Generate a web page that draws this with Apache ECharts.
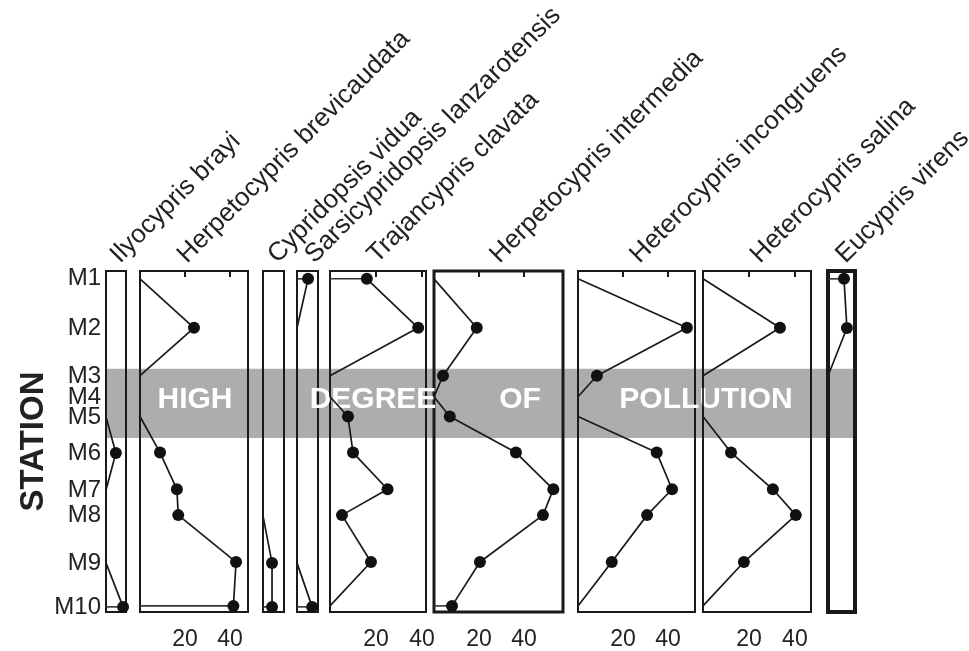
<!DOCTYPE html>
<html><head><meta charset="utf-8">
<script src="https://cdn.jsdelivr.net/npm/echarts@6/dist/echarts.min.js"></script>
<style>html,body{margin:0;padding:0;background:#fff}#c{width:969px;height:651px}</style>
</head><body><div id="c"></div>
<script>
// ---------- data ----------
const stations = ['M1','M2','M3','M4','M5','M6','M7','M8','M9','M10'];
// relative position of each station along the transect (axis units, 0..10)
const stationPos = [0.23, 1.67, 3.08, 3.70, 4.28, 5.34, 6.42, 7.18, 8.56, 9.85];
const species = ['Ilyocypris brayi','Herpetocypris brevicaudata','Cypridopsis vidua','Sarsicypridopsis lanzarotensis','Trajancypris clavata','Herpetocypris intermedia','Heterocypris incongruens','Heterocypris salina','Eucypris virens'];
const ilyocyprisBrayi        = [0, 0, 0, 0, 0, 4.4, 0, 0, 0, 7.6];
const herpetocyprisBrevicaudata = [0, 24, 0, 0, 0, 8.9, 16.4, 17, 42.7, 41.5];
const cypridopsisVidua       = [0, 0, 0, 0, 0, 0, 0, 0, 4, 4];
const sarsicypridopsisLanz   = [4.9, 0, 0, 0, 0, 0, 0, 0, 0, 6.7];
const trajancyprisClavata    = [16, 38.3, 0, 0, 7.8, 10, 25, 5.2, 17.8, 0];
const herpetocyprisIntermedia= [0, 19, 4, 0, 7, 36.4, 53, 48.4, 20.4, 8];
const heterocyprisIncongruens= [0, 48.4, 8.4, 0, 0, 35, 41.8, 30.7, 15, 0];
const heterocyprisSalina     = [0, 33.5, 0, 0, 0, 12.2, 30.4, 40.4, 17.8, 0];
const eucyprisVirens         = [7.1, 8.4, 0, 0, 0, 0, 0, 0, 0, 0];
const tickValues = [20, 40];
const bandLabels = ['HIGH', 'DEGREE', 'OF', 'POLLUTION'];
const bandRange = [2.87, 4.90];

const seriesValues = [ilyocyprisBrayi, herpetocyprisBrevicaudata, cypridopsisVidua, sarsicypridopsisLanz,
  trajancyprisClavata, herpetocyprisIntermedia, heterocyprisIncongruens, heterocyprisSalina, eucyprisVirens];

// ---------- layout ----------
const FONT = "'Liberation Sans', Arial, sans-serif";
const gridTop = 271, gridHeight = 341;
const panels = [
  {left:106, width:20,  max:8.9,  ticks:false, bw:2, tdx:8},
  {left:140, width:108, max:48,   ticks:true,  bw:2, tdx:-3},
  {left:263, width:21,  max:9.3,  ticks:false, bw:2, tdx:8},
  {left:297, width:21,  max:9.3,  ticks:false, bw:2, tdx:11},
  {left:330, width:96,  max:41.7, ticks:true,  bw:2, tdx:3},
  {left:434, width:129, max:57.3, ticks:true,  bw:3, tdx:5},
  {left:578, width:117, max:52,   ticks:true,  bw:2, tdx:7},
  {left:703, width:108, max:47,   ticks:true,  bw:2, tdx:7},
  {left:828, width:27,  max:12,   ticks:false, bw:4, tdx:8}
];
const bandTextX = [195, 373, 520, 706];

const grid = [], xAxis = [], yAxis = [], series = [];
panels.forEach((p, i) => {
  grid.push({left:p.left, top:gridTop, width:p.width, height:gridHeight, show:false});
  xAxis.push({type:'value', gridIndex:i, min:0, max:p.max, position:'bottom',
    axisLine:{show:false}, splitLine:{show:false},
    axisTick:{show:p.ticks, customValues:tickValues, length:6, lineStyle:{color:'#1a1a1a', width:2}},
    axisLabel:{show:p.ticks, customValues:tickValues, fontSize:23, color:'#222', fontFamily:FONT, margin:17}});
  yAxis.push({type:'value', gridIndex:i, min:0, max:10, inverse:true,
    axisLine:{show:false}, splitLine:{show:false}, axisTick:{show:false},
    axisLabel:{show:i===0, customValues:stationPos, fontSize:24, color:'#222', fontFamily:FONT, margin:5,
      formatter:(v)=>{const k = stationPos.findIndex(s=>Math.abs(s-v)<1e-6); return k>=0?stations[k]:'';}},
    name: i===0 ? 'STATION' : '', nameLocation:'middle', nameRotate:90, nameGap:56,
    nameTextStyle:{fontSize:33, fontWeight:'bold', color:'#222', fontFamily:FONT}});
  const vals = seriesValues[i];
  series.push({type:'line', xAxisIndex:i, yAxisIndex:i, z:5,
    data: vals.map((v,k)=>[v, stationPos[k]]),
    symbol:'circle', symbolSize:(d)=> d[0]>0 ? 12 : 0,
    itemStyle:{color:'#111'}, lineStyle:{color:'#1a1a1a', width:1.7},
    clip:false, silent:true});
  // closing strokes to the axis at the end stations
  [0, vals.length-1].forEach(k => {
    if (vals[k] > 0) {
      series.push({type:'line', xAxisIndex:i, yAxisIndex:i, z:5,
        data:[[0, stationPos[k]], [vals[k], stationPos[k]]], symbol:'none',
        lineStyle:{color:'#333', width:1.6}, clip:false, silent:true});
    }
  });
});

const chart = echarts.init(document.getElementById('c'), null, {renderer:'canvas'});
chart.setOption({animation:false, backgroundColor:'#fff', grid, xAxis, yAxis, series});

// band, panel frames and titles (frames above the band)
const yTop = chart.convertToPixel({yAxisIndex:0}, bandRange[0]);
const yBot = chart.convertToPixel({yAxisIndex:0}, bandRange[1]);
const xL = panels[0].left, xR = panels[panels.length-1].left + panels[panels.length-1].width - 2;
const graphic = [{type:'rect', z:1, shape:{x:xL, y:yTop, width:xR-xL, height:yBot-yTop}, style:{fill:'#adadad'}, silent:true}];
panels.forEach((p) => {
  graphic.push({type:'rect', z:2, shape:{x:p.left, y:gridTop, width:p.width, height:gridHeight},
    style:{fill:'none', stroke:'#1a1a1a', lineWidth:p.bw}, silent:true});
});
bandLabels.forEach((t, j) => {
  graphic.push({type:'text', z:3, x:bandTextX[j], y:yTop + (yBot-yTop)*0.45,
    style:{text:t, fill:'#fff', font:'bold 30px ' + FONT, textAlign:'center', textVerticalAlign:'middle'}, silent:true});
});
panels.forEach((p, i) => {
  graphic.push({type:'text', z:3, x:p.left + p.width/2 + p.tdx, y:268, rotation:Math.PI/4,
    style:{text:species[i], fill:'#222', font:'26px ' + FONT, textAlign:'left', textVerticalAlign:'bottom'}, silent:true});
});
chart.setOption({graphic});
</script></body></html>
